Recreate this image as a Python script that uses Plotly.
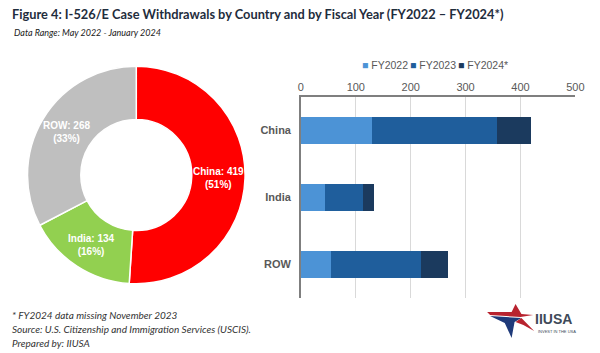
import math
import plotly.graph_objects as go

countries = ["China", "India", "ROW"]
totals = [419, 134, 268]
fy2022 = [130, 43, 55]
fy2023 = [228, 70, 163]
fy2024 = [61, 21, 50]
series_names = ["FY2022", "FY2023", "FY2024*"]
bar_colors = ["#4C93D6", "#1F5E9C", "#1B3A5E"]
pie_colors = ["#FF0000", "#92D050", "#BFBFBF"]
x_ticks = [0, 100, 200, 300, 400, 500]

W, H = 600, 353

def px(x):
    return x / W

def py(y):
    return 1 - y / H

# donut geometry (pixels)
CX, CY, R, HOLE = 136, 175, 111, 0.51

fig = go.Figure()

fig.add_trace(go.Pie(
    labels=countries, values=totals, hole=HOLE, sort=False,
    direction="clockwise", rotation=0,
    marker=dict(colors=pie_colors, line=dict(color="white", width=1.5)),
    textinfo="none", showlegend=False,
    domain=dict(x=[px(CX - R), px(CX + R)], y=[py(CY + R), py(CY - R)]),
))

# slice labels placed at each slice's mid-angle, computed from the data
tot = sum(totals)
cum = 0
r_lab = R * (1 + HOLE) / 2
for lab, v in zip(countries, totals):
    mid = (cum + v / 2) / tot
    cum += v
    th = 2 * math.pi * mid
    x = CX + r_lab * math.sin(th)
    y = CY - r_lab * math.cos(th)
    pct = round(100 * v / tot)
    fig.add_annotation(text=f"<b>{lab}: {v}<br>({pct}%)</b>", x=px(x), y=py(y),
                       xref="paper", yref="paper", showarrow=False,
                       xanchor="center", yanchor="middle",
                       font=dict(size=10, color="white", family="Liberation Sans"))

for name, vals, col in zip(series_names, [fy2022, fy2023, fy2024], bar_colors):
    fig.add_trace(go.Bar(
        name=name, y=countries, x=vals, orientation="h",
        marker=dict(color=col, line=dict(width=0)),
        xaxis="x", yaxis="y", showlegend=False,
    ))

fig.update_layout(
    width=W, height=H, margin=dict(l=0, r=0, t=0, b=0),
    paper_bgcolor="white", plot_bgcolor="white",
    barmode="stack", bargap=0.6,
    font=dict(family="Liberation Sans", color="#595959"),
    xaxis=dict(domain=[px(304), px(584)], range=[0, 500], side="top",
               tickvals=x_ticks, showgrid=True, gridcolor="#D9D9D9", gridwidth=1,
               showline=True, linecolor="#7F7F7F", linewidth=1.5,
               zeroline=False, ticks="", tickfont=dict(size=11, color="#595959"),
               anchor="y", fixedrange=True),
    yaxis=dict(domain=[py(298), py(97)], categoryorder="array",
               categoryarray=countries, autorange="reversed",
               showline=True, linecolor="#7F7F7F", linewidth=1.5,
               showgrid=False, ticks="", ticklabelstandoff=6,
               tickfont=dict(size=11, color="#595959", family="Liberation Sans", weight="bold"),
               anchor="x"),
    showlegend=False,
)

# legend row (series names and colours from the data lists)
leg_x = [364, 413, 462]
for name, col, lx in zip(series_names, bar_colors, leg_x):
    fig.add_annotation(text=f"<span style='color:{col}'>■</span> {name}",
                       x=px(lx), y=py(65), xref="paper", yref="paper",
                       xanchor="left", yanchor="middle", showarrow=False,
                       font=dict(size=10.5, color="#595959", family="Liberation Sans"))

# titles and notes
fig.add_annotation(text="<b>Figure 4: I-526/E Case Withdrawals by Country and by Fiscal Year (FY2022 – FY2024*)</b>",
                   x=px(7), y=py(14), xref="paper", yref="paper", xanchor="left", yanchor="middle",
                   showarrow=False, font=dict(size=12.8, color="#1F2D3D", family="Lato"))
fig.add_annotation(text="<i>Data Range: May 2022 - January 2024</i>",
                   x=px(9), y=py(32), xref="paper", yref="paper", xanchor="left", yanchor="middle",
                   showarrow=False, font=dict(size=9, color="#222222", family="Lato"))
notes = ["* FY2024 data missing November 2023",
         "Source: U.S. Citizenship and Immigration Services (USCIS).",
         "Prepared by: IIUSA"]
for i, t in enumerate(notes):
    fig.add_annotation(text="<i>" + t + "</i>", x=px(7), y=py(315 + 14 * i), xref="paper", yref="paper",
                       xanchor="left", yanchor="middle", showarrow=False,
                       font=dict(size=10, color="#333333", family="Lato"))

# logo
def path(points):
    return "M " + " L ".join(f"{px(x)},{py(y)}" for x, y in points) + " Z"

fig.add_shape(type="path", xref="paper", yref="paper", line=dict(width=0), fillcolor="#B8232F",
              path=path([(494, 312), (519, 312), (523, 304), (529, 314), (541, 315), (528, 317), (497, 315)]))
fig.add_shape(type="path", xref="paper", yref="paper", line=dict(width=0), fillcolor="#1F3A7A",
              path=path([(497, 316), (529, 318), (522, 322), (519, 338), (512, 323)]))
fig.add_shape(type="path", xref="paper", yref="paper", line=dict(width=0), fillcolor="#B8232F",
              path=path([(529, 318), (535, 324), (542, 331), (531, 325), (523, 322)]))
fig.add_annotation(text="<b>IIUSA</b>", x=px(541), y=py(319), xref="paper", yref="paper",
                   xanchor="left", yanchor="middle", showarrow=False,
                   font=dict(size=14, color="#3E4A59", family="Liberation Sans"))
fig.add_annotation(text="INVEST IN THE USA", x=px(544), y=py(331), xref="paper", yref="paper",
                   xanchor="left", yanchor="middle", showarrow=False,
                   font=dict(size=4, color="#3E4A59", family="Liberation Sans"))

fig.write_html("out.html")
